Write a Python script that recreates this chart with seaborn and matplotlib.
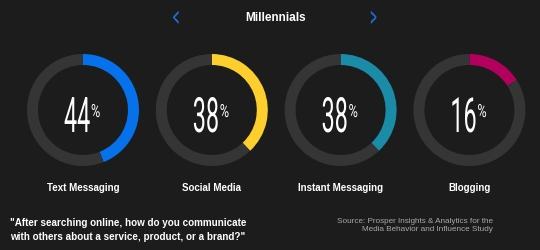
import matplotlib.pyplot as plt
import matplotlib.patheffects as pe
from matplotlib.transforms import Affine2D
import seaborn as sns

# 값
channels = ["Text Messaging", "Social Media", "Instant Messaging", "Blogging"]
shares = [44, 38, 38, 16]
colors = ["#0572ec", "#fccf2f", "#1a8ca8", "#b3005f"]

title = "Millennials"
question = "\"After searching online, how do you communicate\nwith others about a service, product, or a brand?\""
source = "Source: Prosper Insights & Analytics for the\nMedia Behavior and Influence Study"

bg = "#1c1c1c"
track = "#353535"


# 글자 모양을 늘리거나 눌러서 condensed 폰트처럼 보이게
class Stretch(pe.AbstractPathEffect):
    def __init__(self, sx, sy=1.0):
        super().__init__()
        self.sx, self.sy = sx, sy

    def draw_path(self, renderer, gc, tpath, affine, rgbFace=None):
        renderer.draw_path(gc, tpath, Affine2D().scale(self.sx, self.sy) + affine, rgbFace)


sns.set_style("dark", {"axes.facecolor": bg, "figure.facecolor": bg})
plt.rcParams['font.family'] = ['Liberation Sans', 'DejaVu Sans']

W, H = 540, 251
fig = plt.figure(figsize=(W / 100, H / 100), dpi=100)
ax = fig.add_axes([0, 0, 1, 1])
ax.set_facecolor(bg)

cx0, step, cy, r = 83, 128.8, H - 111, 56
for i, (name, val, col) in enumerate(zip(channels, shares, colors)):
    cx = cx0 + i * step
    ax.pie([val, 100 - val], colors=[col, track], startangle=90, counterclock=False,
           center=(cx, cy), radius=r, wedgeprops=dict(width=11, linewidth=0))
    ax.text(cx - 19, H - 133, f"{val}", ha="left", va="baseline", color="white",
            fontsize=17.5, family="Roboto", path_effects=[Stretch(0.96, 2.0)])
    ax.text(cx + 8, H - 118, "%", ha="left", va="baseline", color="white",
            fontsize=13, family="Roboto", path_effects=[Stretch(0.7)])
    ax.text(cx, H - 188, name, ha="center", va="center", color="white",
            fontsize=7, fontweight="bold")

ax.text(276, H - 18, title, ha="center", va="center", color="white", fontsize=8.5, fontweight="bold")
ax.text(173, H - 28, "<", ha="left", va="baseline", color="#1e6bdc", fontsize=22,
        family="Roboto", path_effects=[Stretch(0.42)])
ax.text(370, H - 28, ">", ha="left", va="baseline", color="#1e6bdc", fontsize=22,
        family="Roboto", path_effects=[Stretch(0.42)])

ax.text(10, H - 230, question, ha="left", va="center", color="white", fontsize=7.15,
        fontweight="bold", linespacing=1.5)
ax.text(493, H - 225.5, source, ha="right", va="center", color="#a8a8a8", fontsize=5.9,
        linespacing=1.25)

ax.set_xlim(0, W)
ax.set_ylim(0, H)
ax.set_aspect("auto")
ax.axis("off")

fig.savefig("out.png", dpi=100, facecolor=bg)
